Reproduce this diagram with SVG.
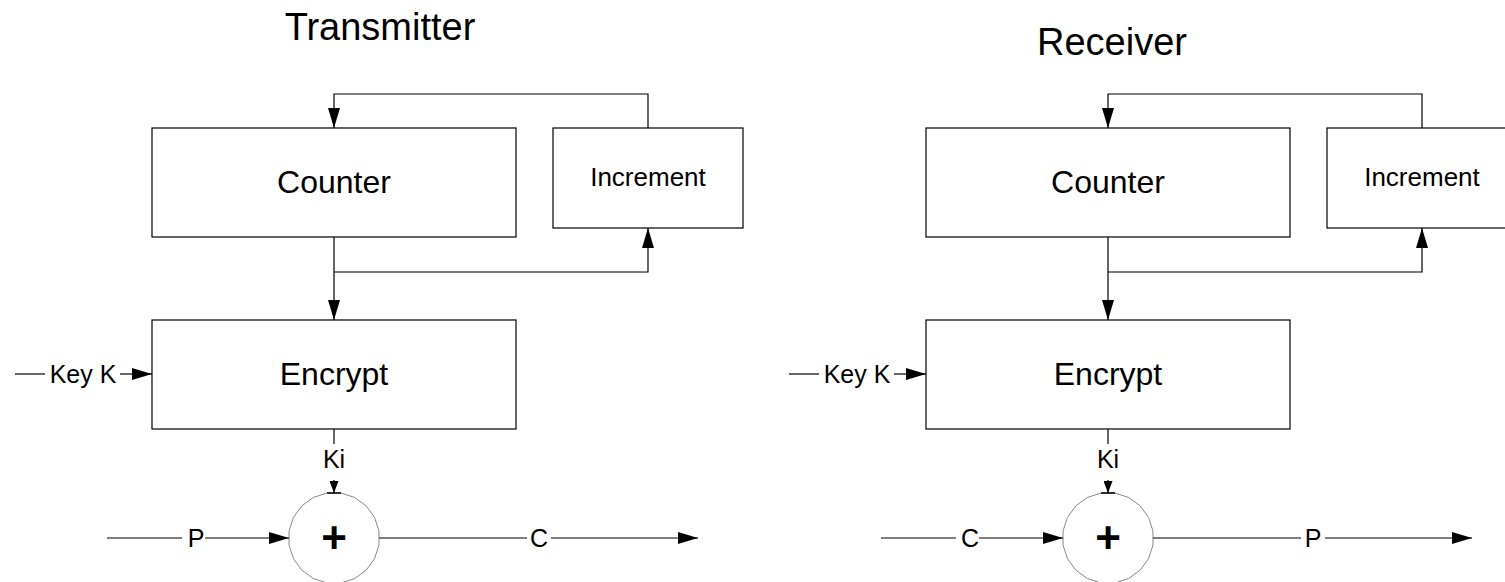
<svg xmlns="http://www.w3.org/2000/svg" width="1505" height="582" viewBox="0 0 1505 582">
<style>
.box{fill:#fff;stroke:#000;stroke-width:1.2}
.ln{fill:none;stroke:#000;stroke-width:1.2}
.xor{fill:#fff;stroke:#888;stroke-width:1}
.tick{stroke:#000;stroke-width:1.5}
text{font-family:"Liberation Sans",Arial,Helvetica,sans-serif;fill:#000;text-anchor:middle}
.t{font-size:38px}
.b{font-size:32px}
.s{font-size:26px}
.l{font-size:25px}
.p{font-size:44px;font-weight:bold}
</style>
<defs>
<marker id="ah" markerUnits="userSpaceOnUse" markerWidth="20" markerHeight="12" refX="20" refY="6" orient="auto"><path d="M0,0 L20,6 L0,12 z" fill="#000"/></marker>
<marker id="ahs" markerUnits="userSpaceOnUse" markerWidth="12" markerHeight="9" refX="12" refY="4.5" orient="auto"><path d="M0,0 L12,4.5 L0,9 z" fill="#000"/></marker>
<polygon id="ring" points="44.94,-7.12 40.54,-20.66 32.17,-32.17 20.66,-40.54 7.12,-44.94 -7.12,-44.94 -20.66,-40.54 -32.17,-32.17 -40.54,-20.66 -44.94,-7.12 -44.94,7.12 -40.54,20.66 -32.17,32.17 -20.66,40.54 -7.12,44.94 7.12,44.94 20.66,40.54 32.17,32.17 40.54,20.66 44.94,7.12"/>
</defs>
<text class="t" x="380" y="40">Transmitter</text>
<text class="t" x="1112" y="55">Receiver</text>
<g id="tx-counter"><rect class="box" x="152" y="128" width="364" height="109"/><text class="b" x="334" y="193">Counter</text></g>
<g id="tx-increment"><rect class="box" x="553" y="128" width="190" height="100"/><text class="s" x="648" y="186">Increment</text></g>
<g id="tx-encrypt"><rect class="box" x="152" y="320" width="364" height="109"/><text class="b" x="334" y="385">Encrypt</text></g>
<g id="tx-xor"><use href="#ring" class="xor" x="334" y="538"/><line class="tick" x1="327" y1="493" x2="341" y2="493"/><text class="p" x="334" y="553">+</text></g>
<g id="rx-counter"><rect class="box" x="926" y="128" width="364" height="109"/><text class="b" x="1108" y="193">Counter</text></g>
<g id="rx-increment"><rect class="box" x="1327" y="128" width="190" height="100"/><text class="s" x="1422" y="186">Increment</text></g>
<g id="rx-encrypt"><rect class="box" x="926" y="320" width="364" height="109"/><text class="b" x="1108" y="385">Encrypt</text></g>
<g id="rx-xor"><use href="#ring" class="xor" x="1108" y="538"/><line class="tick" x1="1101" y1="493" x2="1115" y2="493"/><text class="p" x="1108" y="553">+</text></g>
<g id="connectors">
<polyline class="ln" points="648,128 648,94 334,94 334,128" marker-end="url(#ah)"/>
<polyline class="ln" points="334,272 648,272 648,228" marker-end="url(#ah)"/>
<line class="ln" x1="334" y1="237" x2="334" y2="320" marker-end="url(#ah)"/>
<line class="ln" x1="15" y1="374" x2="45" y2="374"/>
<text class="l" x="83" y="383">Key K</text>
<line class="ln" x1="120" y1="374" x2="152" y2="374" marker-end="url(#ah)"/>
<line class="ln" x1="334" y1="429" x2="334" y2="444"/>
<text class="l" x="334" y="468">Ki</text>
<line class="ln" x1="334" y1="480" x2="334" y2="493" marker-end="url(#ahs)"/>
<line class="ln" x1="107" y1="538" x2="182" y2="538"/>
<text class="l" x="196" y="547">P</text>
<line class="ln" x1="205" y1="538" x2="289" y2="538" marker-end="url(#ah)"/>
<line class="ln" x1="379" y1="538" x2="527" y2="538"/>
<text class="l" x="539" y="547">C</text>
<line class="ln" x1="551" y1="538" x2="698" y2="538" marker-end="url(#ah)"/>
<polyline class="ln" points="1422,128 1422,94 1108,94 1108,128" marker-end="url(#ah)"/>
<polyline class="ln" points="1108,272 1422,272 1422,228" marker-end="url(#ah)"/>
<line class="ln" x1="1108" y1="237" x2="1108" y2="320" marker-end="url(#ah)"/>
<line class="ln" x1="789" y1="374" x2="819" y2="374"/>
<text class="l" x="857" y="383">Key K</text>
<line class="ln" x1="894" y1="374" x2="926" y2="374" marker-end="url(#ah)"/>
<line class="ln" x1="1108" y1="429" x2="1108" y2="444"/>
<text class="l" x="1108" y="468">Ki</text>
<line class="ln" x1="1108" y1="480" x2="1108" y2="493" marker-end="url(#ahs)"/>
<line class="ln" x1="881" y1="538" x2="956" y2="538"/>
<text class="l" x="970" y="547">C</text>
<line class="ln" x1="979" y1="538" x2="1063" y2="538" marker-end="url(#ah)"/>
<line class="ln" x1="1153" y1="538" x2="1301" y2="538"/>
<text class="l" x="1313" y="547">P</text>
<line class="ln" x1="1325" y1="538" x2="1472" y2="538" marker-end="url(#ah)"/>
</g>
</svg>
